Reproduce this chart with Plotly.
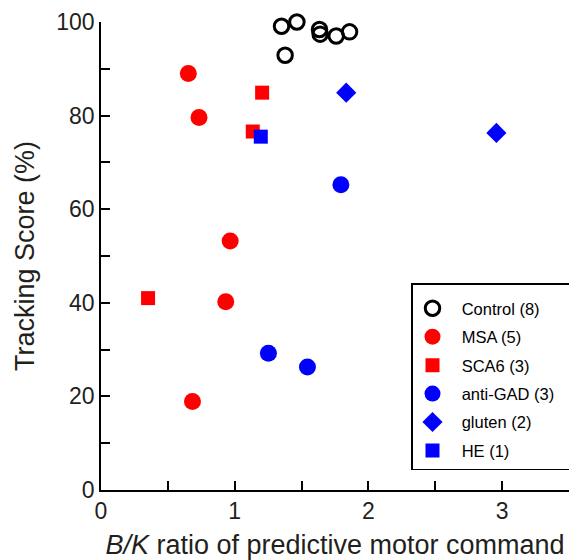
import plotly.graph_objects as go

# Data
control_x = [1.35, 1.465, 1.377, 1.634, 1.702, 1.639, 1.759, 1.859]
control_y = [99.1, 100.0, 92.9, 98.4, 100.3, 97.4, 97.0, 97.9]
msa_x = [0.653, 0.733, 0.966, 0.933, 0.684]
msa_y = [89.0, 79.6, 53.2, 40.2, 18.9]
sca6_x = [1.205, 1.135, 0.352]
sca6_y = [84.9, 76.6, 41.0]
gad_x = [1.794, 1.252, 1.544]
gad_y = [65.2, 29.2, 26.3]
gluten_x = [1.834, 2.957]
gluten_y = [84.9, 76.3]
he_x = [1.195]
he_y = [75.5]

x_ticks = [0, 1, 2, 3]
y_ticks = [0, 20, 40, 60, 80, 100]

TXT = "#231f20"
FONT = "Arial, 'Liberation Sans', sans-serif"
NB = "\u00a0\u00a0"
TRAIL = "\u00a0" * 4

fig = go.Figure()

def add(name, xs, ys, symbol, color, size, open_=False, grp=None):
    if open_:
        marker = dict(symbol=symbol, size=size, color="rgba(255,255,255,0)",
                      line=dict(color=color, width=3))
    else:
        marker = dict(symbol=symbol, size=size, color=color, line=dict(width=0))
    fig.add_trace(go.Scatter(x=xs, y=ys, mode="markers", name=NB + name + TRAIL, marker=marker,
                             cliponaxis=False, legendgroup=grp))

add("Control (8)", control_x, control_y, "circle", "black", 14.5, open_=True, grp="a")
add("MSA (5)", msa_x, msa_y, "circle", "#ff0000", 17, grp="b")
add("SCA6 (3)", sca6_x, sca6_y, "square", "#ff0000", 14, grp="c")
add("anti-GAD (3)", gad_x, gad_y, "circle", "#0000ff", 17, grp="d")
add("gluten (2)", gluten_x, gluten_y, "diamond", "#0000ff", 15.5, grp="e")
add("HE (1)", he_x, he_y, "square", "#0000ff", 14, grp="f")

# page body has an 8px margin; compensate so the plot area lands at x 101..569, y 22..490
fig.update_layout(
    width=569, height=552,
    margin=dict(l=93, r=8, t=14, b=70, autoexpand=False),
    paper_bgcolor="white", plot_bgcolor="white",
    font=dict(family=FONT, color=TXT, size=23),
    legend=dict(
        x=(411 - 101) / 468, y=1 - (283 - 22) / 468, xanchor="left", yanchor="top",
        bordercolor="black", borderwidth=1.5, bgcolor="white",
        font=dict(size=16.5, color="black", family=FONT),
        tracegroupgap=4, traceorder="grouped", itemwidth=30,
        title=dict(text="\u00a0", font=dict(size=5)),
    ),
    xaxis=dict(
        range=[0, 3.5], tickvals=x_ticks, ticktext=[str(v) for v in x_ticks],
        showgrid=False, zeroline=False, showline=True, linecolor="black", linewidth=1.5,
        ticks="inside", ticklen=9, tickwidth=1.5, tickcolor="black",
        minor=dict(dtick=0.5, ticks="inside", ticklen=9, tickwidth=1.5, tickcolor="black"),
        tickfont=dict(size=23, color=TXT),
        title=dict(text="<i>B/K</i> ratio of predictive motor command",
                   font=dict(size=27, color=TXT), standoff=12),
    ),
    yaxis=dict(
        range=[0, 100], tickvals=y_ticks, ticktext=[str(v) for v in y_ticks],
        showgrid=False, zeroline=False, showline=True, linecolor="black", linewidth=1.5,
        ticks="inside", ticklen=9, tickwidth=1.5, tickcolor="black",
        minor=dict(dtick=10, ticks="inside", ticklen=9, tickwidth=1.5, tickcolor="black"),
        tickfont=dict(size=23, color=TXT),
        title=dict(text="Tracking Score (%)", font=dict(size=27, color=TXT), standoff=14),
    ),
)

fig.write_html("out.html")
